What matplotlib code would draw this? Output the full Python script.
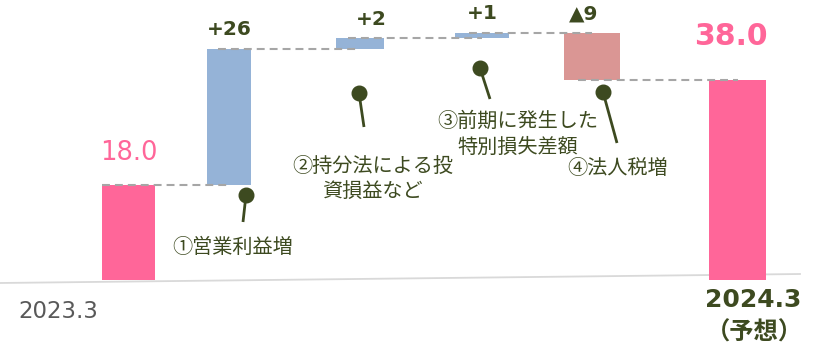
import matplotlib
matplotlib.use('Agg')
import matplotlib.pyplot as plt

plt.rcParams['font.family'] = ['DejaVu Sans', 'Noto Sans CJK JP']

# ---- data ----
categories = ['2023.3', '①営業利益増', '②持分法による投資損益など',
              '③前期に発生した特別損失差額', '④法人税増', '2024.3（予想）']
start_value = 18.0
changes = [26, 2, 1, -9]
change_labels = ['+26', '+2', '+1', '▲9']
end_value = 38.0
start_label = '18.0'
end_label = '38.0'

# ---- layout (pixels) ----
bar_x = [128.5, 229, 360, 482, 592, 737.5]
bar_w = [53, 44, 48, 54, 56, 57]

PINK = '#FF6699'
BLUE = '#95B3D7'
RED = '#DA9694'
OLIVE = '#3D4A20'
DASH = '#A6A6A6'
JP = ['Noto Sans CJK JP', 'DejaVu Sans']

W, H = 816, 344
fig = plt.figure(figsize=(W / 100, H / 100), dpi=100)
fig.patch.set_facecolor('white')

base_px = 279.5
k = 246.5 / 47.0
ax = fig.add_axes([0, 0, 1, 1])
ax.set_xlim(0, W)
ax.set_ylim(-(H - base_px) / k, base_px / k)
ax.axis('off')

ov = fig.add_axes([0, 0, 1, 1], facecolor='none')
ov.set_xlim(0, W)
ov.set_ylim(H, 0)
ov.axis('off')

# baseline (slightly slanted as in the reference)
ax.plot([0, 800], [283, 274], transform=ov.transData, color='#D9D9D9', lw=1.3, zorder=0)

# ---- bars ----
ax.bar(bar_x[0], start_value, width=bar_w[0], color=PINK, zorder=2)
levels = [start_value]
cum = start_value
for i, c in enumerate(changes):
    bottom = min(cum, cum + c)
    ax.bar(bar_x[i + 1], abs(c), bottom=bottom, width=bar_w[i + 1],
           color=BLUE if c > 0 else RED, zorder=2)
    cum += c
    levels.append(cum)
ax.bar(bar_x[5], end_value, width=bar_w[5], color=PINK, zorder=2)

# connectors
for i, lv in enumerate(levels):
    x0 = bar_x[i] - bar_w[i] / 2 if i == 0 else bar_x[i] - bar_w[i] / 4
    x1 = bar_x[i + 1]
    ax.plot([x0, x1], [lv, lv], color=DASH, lw=1.5, dashes=(3.8, 2.4), zorder=3)

# ---- value labels ----
ax.annotate(start_label, (bar_x[0], start_value), xytext=(0, 14), textcoords='offset points',
            ha='center', va='bottom', fontsize=18.5, color=PINK)
ax.annotate(end_label, (bar_x[5] - 7, end_value), xytext=(0, 21), textcoords='offset points',
            ha='center', va='bottom', fontsize=21.5, color=PINK, fontweight='bold')
label_dx = [0, 8, 0, -6]
cum = start_value
for i, (c, lab) in enumerate(zip(changes, change_labels)):
    top = max(cum, cum + c)
    ax.annotate(lab, (bar_x[i + 1], top), xytext=(label_dx[i], 7), textcoords='offset points',
                ha='center', va='bottom', fontsize=14.5, color=OLIVE, fontweight='bold')
    cum += c

# ---- category labels ----
ov.text(58, 312, categories[0], ha='center', va='center', fontsize=16.5, color='#595959')
ov.text(753, 300, '2024.3', ha='center', va='center', fontsize=18, color=OLIVE, fontweight='bold')
ov.text(754, 333, '（予想）', ha='center', va='center', fontsize=17.5, color=OLIVE,
        fontweight='bold', family=JP)

# ---- callouts ----
pins = [((246, 195), (243, 222)), ((359, 93), (364, 127)),
        ((480, 68), (490, 99)), ((603, 92), (617, 143))]
for (cx, cy), (tx, ty) in pins:
    ov.plot([cx, tx], [cy, ty], color=OLIVE, lw=2, solid_capstyle='butt', zorder=4)
    ov.plot([cx], [cy], marker='o', markersize=10.5, color=OLIVE, zorder=5)

txt_kw = dict(ha='center', va='center', fontsize=14.5, color=OLIVE, family=JP)
ov.text(232.5, 247, '①営業利益増', **txt_kw)
ov.text(372.5, 166, '②持分法による投', **txt_kw)
ov.text(372.5, 191, '資損益など', **txt_kw)
ov.text(517.5, 121, '③前期に発生した', **txt_kw)
ov.text(517.5, 147, '特別損失差額', **txt_kw)
ov.text(617.5, 169, '④法人税増', **txt_kw)

fig.savefig('out.png', dpi=100, facecolor='white')
